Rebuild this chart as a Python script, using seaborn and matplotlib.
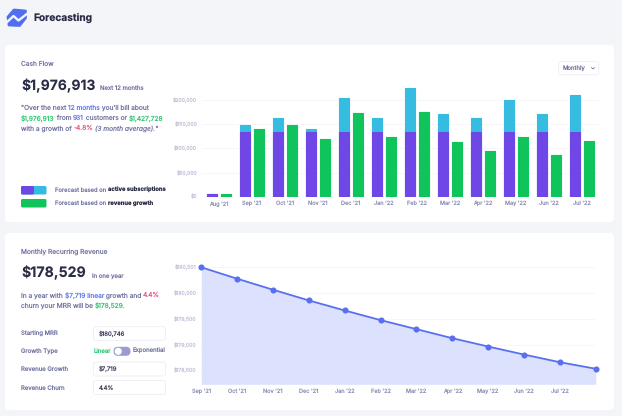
import matplotlib
matplotlib.use("Agg")
import matplotlib.pyplot as plt
import pandas as pd
import seaborn as sns
from matplotlib.patches import FancyBboxPatch, Polygon, Circle

months = ["Aug '21", "Sep '21", "Oct '21", "Nov '21", "Dec '21", "Jan '22",
          "Feb '22", "Mar '22", "Apr '22", "May '22", "Jun '22", "Jul '22"]
subscriptions = [5500, 133000, 133000, 133000, 133000, 133000,
                 133000, 133000, 133000, 133000, 133000, 133000]
subscriptions_total = [5500, 148300, 163400, 140000, 204000, 162800,
                       225500, 171700, 162000, 200000, 171000, 210000]
revenue_growth = [5500, 140700, 148300, 118600, 172400, 122800,
                  174500, 112400, 94500, 123400, 86200, 115000]
cash_ticks = [0, 50000, 100000, 150000, 200000]

mrr_months = ["Sep '21", "Oct '21", "Nov '21", "Dec '21", "Jan '22", "Feb '22",
              "Mar '22", "Apr '22", "May '22", "Jun '22", "Jul '22", ""]
mrr_values = [180501, 180279, 180065, 179857, 179662, 179474,
              179299, 179123, 178961, 178805, 178656, 178529]
mrr_ticks = [178500, 179000, 179500, 180000, 180500]
mrr_tick_labels = ["$178,500", "$179,000", "$179,500", "$180,000", "$180,501"]

BG = "#f4f5f9"
DARK = "#2a2d45"
INPUT = "#43455e"
MUTED = "#7476a3"
TICK = "#c3c5da"
XTICK = "#8f91b8"
BLUE = "#5f7af0"
GREEN = "#2cc873"
PINK = "#e8588a"
PURPLE = "#6f47e6"
CYAN = "#36bce0"
BAR_GREEN = "#10c45c"

BODY = 4.75
SMALL = 4.3
LEGEND = 4.2

sns.set_theme(style="white")
plt.rcParams["font.family"] = ["Inter", "DejaVu Sans"]
plt.rcParams["text.hinting"] = "no_hinting"
plt.rcParams["text.hinting_factor"] = 1

W, H = 622, 416
fig = plt.figure(figsize=(W / 100, H / 100), dpi=100, facecolor=BG)

# page layer in pixel coordinates
page = fig.add_axes([0, 0, 1, 1], zorder=0)
page.set_xlim(0, W)
page.set_ylim(H, 0)
page.axis("off")


def box(x0, y0, x1, y1, face="white", edge="none", r=4, lw=0.6):
    page.add_patch(FancyBboxPatch((x0 + r, y0 + r), x1 - x0 - 2 * r, y1 - y0 - 2 * r,
                                  boxstyle=f"round,pad={r},rounding_size={r}",
                                  fc=face, ec=edge, lw=lw))


def runs(x, y, parts, size=BODY):
    # colored words on one line, each placed after the one before
    renderer = fig.canvas.get_renderer()
    for part in parts:
        txt, color = part[0], part[1]
        style = part[2] if len(part) > 2 else "normal"
        weight = part[3] if len(part) > 3 else "normal"
        t = page.text(x, y, txt, color=color, fontsize=size, va="center", ha="left",
                      style=style, weight=weight)
        x = x + t.get_window_extent(renderer).width


# cards
box(5, 45, 614, 222)
box(5, 233, 614, 410)

# logo
page.add_patch(Polygon([(8, 17), (14, 10), (25.5, 11), (25.5, 18), (19.5, 25.5), (9, 25)],
                       fc="#4f6ff0", ec="#4f6ff0", lw=2, joinstyle="round"))
page.plot([5.5, 13.5, 18.5, 28], [23.5, 16, 20.5, 13], color=BG, lw=1.7)
page.text(33, 18, "Forecasting", color=DARK, fontsize=7.3, weight="bold", va="center")

# cash flow header
page.text(21, 64, "Cash Flow", color=MUTED, fontsize=BODY, va="center")
page.text(21, 85.5, "$1,976,913", color=DARK, fontsize=10, weight="bold", va="center")
page.text(99.5, 88.5, "Next 12 months", color=MUTED, fontsize=SMALL, va="center")
runs(21, 108, [("\"Over the next ", MUTED), ("12 months", BLUE), (" you'll bill about", MUTED)])
runs(21, 118.3, [("$1,976,913", GREEN), (" from ", MUTED), ("931", BLUE), (" customers or ", MUTED),
                 ("$1,427,728", GREEN)])
runs(21, 128.5, [("with a growth of ", MUTED), ("-4.8%", PINK), (" ", MUTED),
                 ("(3 month average).\"", MUTED, "italic")])

# legend
box(21, 186, 46.5, 194.5, face=CYAN, r=1.5)
box(21, 186, 34, 194.5, face=PURPLE, r=1.5)
box(21, 199, 46.5, 207.5, face=BAR_GREEN, r=1.5)
runs(55, 190, [("Forecast based on ", MUTED), ("active subscriptions", DARK, "normal", "bold")], size=LEGEND)
runs(55, 203.5, [("Forecast based on ", MUTED), ("revenue growth", DARK, "normal", "bold")], size=LEGEND)

# dropdown
box(558.7, 61.7, 598.7, 74.7, edge="#eceef5", r=2)
page.text(563, 68, "Monthly", color=MUTED, fontsize=SMALL, va="center")
page.plot([591.5, 593, 594.5], [67.5, 69, 67.5], color=MUTED, lw=0.6)

# mrr header
page.text(21, 251.7, "Monthly Recurring Revenue", color=MUTED, fontsize=BODY, va="center")
page.text(21, 272.7, "$178,529", color=DARK, fontsize=10.2, weight="bold", va="center")
page.text(92, 276, "In one year", color=MUTED, fontsize=SMALL, va="center")
runs(21, 295.3, [("In a year with ", MUTED), ("$7,719 linear", BLUE), (" growth and ", MUTED), ("4.4%", PINK)])
runs(21, 305.7, [("churn your MRR will be ", MUTED), ("$178,529.", GREEN)])

# form
page.text(21, 333.7, "Starting MRR", color=MUTED, fontsize=SMALL, va="center")
page.text(21, 351.3, "Growth Type", color=MUTED, fontsize=SMALL, va="center")
page.text(21, 369.3, "Revenue Growth", color=MUTED, fontsize=SMALL, va="center")
page.text(21, 387.7, "Revenue Churn", color=MUTED, fontsize=SMALL, va="center")
box(93.5, 326.7, 165.5, 340.3, edge="#eceef5", r=2)
box(93.5, 362, 165.5, 376, edge="#eceef5", r=2)
box(93.5, 380.5, 165.5, 394.5, edge="#eceef5", r=2)
page.text(99, 333.7, "$180,746", color=INPUT, fontsize=SMALL, va="center")
page.text(99, 369.3, "$7,719", color=INPUT, fontsize=SMALL, va="center")
page.text(99, 387.7, "4.4%", color=INPUT, fontsize=SMALL, va="center")
page.text(94, 351.3, "Linear", color=GREEN, fontsize=SMALL, va="center")
page.text(133, 351.3, "Exponential", color=MUTED, fontsize=SMALL, va="center")
box(113.5, 346.8, 130.5, 355.8, face="#9a9bd0", r=4.4)
page.add_patch(Circle((118.2, 351.3), 3.6, fc="white", ec="none"))

# cash flow bars
bar_ax = fig.add_axes([202.2 / W, 1 - 196.7 / H, 396 / W, 116.1 / H], zorder=1)
bar_ax.patch.set_alpha(0)
bars = pd.DataFrame({
    "month": months * 2,
    "amount": subscriptions_total + revenue_growth,
    "basis": ["subscriptions"] * 12 + ["growth"] * 12,
})
base = pd.DataFrame({
    "month": months * 2,
    "amount": subscriptions + [0] * 12,
    "basis": ["subscriptions"] * 12 + ["growth"] * 12,
})
sns.barplot(data=bars, x="month", y="amount", hue="basis", ax=bar_ax, legend=False,
            palette={"subscriptions": CYAN, "growth": BAR_GREEN}, saturation=1,
            width=0.86, gap=0.3, linewidth=0)
sns.barplot(data=base, x="month", y="amount", hue="basis", ax=bar_ax, legend=False,
            palette={"subscriptions": PURPLE, "growth": BAR_GREEN}, saturation=1,
            width=0.86, gap=0.3, linewidth=0)
for patch in bar_ax.patches:
    patch.set_edgecolor(patch.get_facecolor())
    patch.set_linewidth(0.8)
    patch.set_joinstyle("round")
    patch.set_zorder(3)
    # the zero-height helpers of the overlay stay hidden
    if patch.get_height() == 0:
        patch.set_visible(False)
bar_ax.set_xlim(-0.5, 11.5)
bar_ax.set_ylim(0, 240000)
bar_ax.set_yticks(cash_ticks)
bar_ax.set_yticklabels([f"${v:,}" for v in cash_ticks])
bar_ax.set_xlabel("")
bar_ax.set_ylabel("")
bar_ax.grid(axis="y", color="#f5f6fa", lw=0.6)
bar_ax.set_axisbelow(True)
bar_ax.tick_params(axis="y", length=0, pad=3.5, labelsize=3.7, labelcolor=TICK)
bar_ax.tick_params(axis="x", length=0, pad=3, labelsize=4.0, labelcolor=XTICK)
sns.despine(ax=bar_ax, left=True, bottom=True)

# mrr line
line_ax = fig.add_axes([201.3 / W, 1 - 384.3 / H, 394.4 / W, 117 / H], zorder=1)
line_ax.patch.set_alpha(0)
steps = list(range(len(mrr_values)))
line_ax.fill_between(steps, mrr_values, 178227, color="#dce2fd", lw=0)
sns.lineplot(x=steps, y=mrr_values, ax=line_ax, color="#5a6ff0", lw=1.3, marker="o",
             markersize=4.4, markeredgewidth=0, clip_on=False, zorder=4)
line_ax.set_xlim(0, 11)
line_ax.set_ylim(178227, 180501)
line_ax.set_xticks(steps)
line_ax.set_xticklabels(mrr_months)
line_ax.set_yticks(mrr_ticks)
line_ax.set_yticklabels(mrr_tick_labels)
line_ax.grid(axis="y", color="#f5f6fa", lw=0.6)
line_ax.set_axisbelow(True)
line_ax.tick_params(axis="y", length=0, pad=3.5, labelsize=3.7, labelcolor=TICK)
line_ax.tick_params(axis="x", length=0, pad=3, labelsize=4.0, labelcolor=XTICK)
sns.despine(ax=line_ax, left=True, bottom=True)

fig.savefig("out.png", dpi=100, facecolor=BG)
